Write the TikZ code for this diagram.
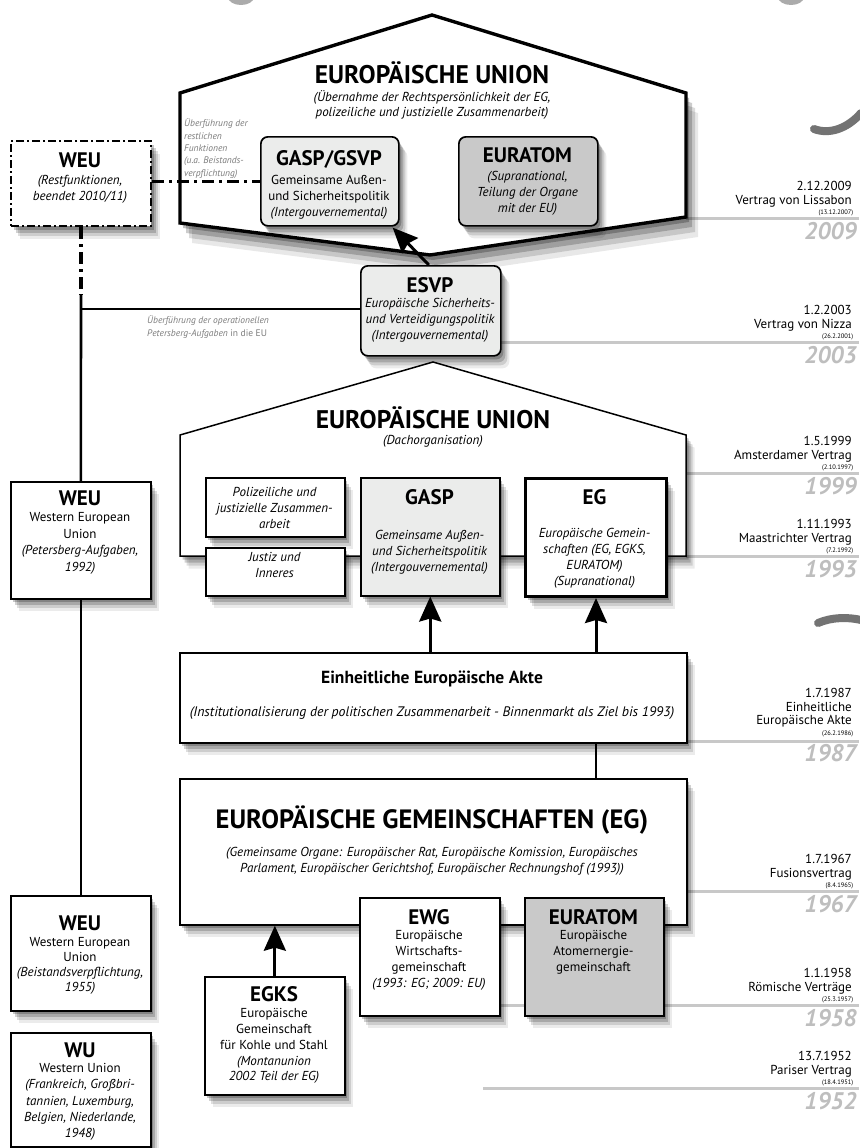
\documentclass[tikz,border=0pt]{standalone}
\usepackage{fontspec}
\setmainfont{PT Sans}
\usetikzlibrary{arrows.meta,shadows}
\definecolor{lgrey}{HTML}{EBECEB}
\definecolor{mgrey}{HTML}{C9C9C9}
\definecolor{tlgrey}{HTML}{C8C8C8}
\definecolor{yrgrey}{HTML}{BEBEBE}
\definecolor{notegrey}{HTML}{7C7C7C}
\definecolor{decogrey}{HTML}{737373}
\newcommand\fbody{\fontsize{13}{15.8}\selectfont}
\newcommand\stt{\rule{0pt}{10.4pt}}
\newcommand\tlentry[6]{%
  \draw[tlline] (#2,#1) -- (859,#1);
  \node[tldate] (d#6) at (852,#1-27.3) {#3};
  \node[tldate] (n#6) at (852,#1-13.1) {#4};
  \node[tlsmall] (s#6) at (853.5,#1-3.8) {#5};
  \node[tlyear] (y#6) at (857,#1+21.3) {#6};
}
\begin{document}
\begin{tikzpicture}[x=1pt,y=-1pt,
  sh/.style={drop shadow={shadow xshift=2.5pt,shadow yshift=-3.5pt,opacity=.22,fill=black},
             drop shadow={shadow xshift=4.5pt,shadow yshift=-6.5pt,opacity=.18,fill=black},
             drop shadow={shadow xshift=6.5pt,shadow yshift=-9.5pt,opacity=.13,fill=black},
             drop shadow={shadow xshift=8.5pt,shadow yshift=-12.5pt,opacity=.08,fill=black}},
  shbig/.style={drop shadow={shadow xshift=3pt,shadow yshift=-5pt,opacity=.25,fill=black},
             drop shadow={shadow xshift=6pt,shadow yshift=-10pt,opacity=.2,fill=black},
             drop shadow={shadow xshift=9pt,shadow yshift=-15pt,opacity=.14,fill=black},
             drop shadow={shadow xshift=12pt,shadow yshift=-20pt,opacity=.09,fill=black}},
  box/.style={draw, line width=1.7pt, fill=white, inner sep=0pt, anchor=north west, sh},
  rbox/.style={box, rounded corners=7pt},
  ttl/.style={inner sep=0pt, anchor=base, font=\fontsize{21}{23}\selectfont\bfseries},
  bd/.style={inner sep=0pt, anchor=north, align=center, font=\fbody},
  bdi/.style={bd, font=\fbody\itshape},
  note/.style={inner sep=0pt, anchor=north west, align=left, text=notegrey, font=\fontsize{9.5}{12.4}\selectfont},
  conn/.style={line width=2.6pt},
  ddash/.style={line width=3.2pt, dash pattern=on 12pt off 5pt on 3pt off 5pt},
  arr/.style={line width=3pt, -{Stealth[length=25pt,width=22pt,inset=3pt]}},
  tlline/.style={line width=3pt, tlgrey},
  tldate/.style={inner sep=0pt, anchor=base east, font=\fontsize{13}{15}\selectfont},
  tlsmall/.style={inner sep=0pt, anchor=base east, font=\fontsize{6.5}{7}\selectfont},
  tlyear/.style={inner sep=0pt, anchor=base east, text=yrgrey, font=\fontsize{24}{26}\selectfont\bfseries\itshape},
  deco/.style={line width=8pt, decogrey, line cap=round}]
\useasboundingbox (0,0) rectangle (859,1148);

% timeline
\tlentry{218}{686}{2.12.2009}{Vertrag von Lissabon}{(13.12.2007)}{2009}
\tlentry{342}{500}{1.2.2003}{Vertrag von Nizza}{(26.2.2001)}{2003}
\tlentry{473}{686}{1.5.1999}{Amsterdamer Vertrag}{(2.10.1997)}{1999}
\tlentry{556}{686}{1.11.1993}{Maastrichter Vertrag}{(7.2.1992)}{1993}
\draw[tlline] (686,741) -- (859,741);
\node[tldate] (d1987) at (852,697.7) {1.7.1987};
\node[tldate] (n1987a) at (852,711.7) {Einheitliche};
\node[tldate] (n1987b) at (852,724.7) {Europäische Akte};
\node[tlsmall] (s1987) at (853.5,735.2) {(26.2.1986)};
\node[tlyear] (y1987) at (857,761.8) {1987};
\tlentry{891}{686}{1.7.1967}{Fusionsvertrag}{(8.4.1965)}{1967}
\tlentry{1005}{499}{1.1.1958}{Römische Verträge}{(25.3.1957)}{1958}
\tlentry{1088}{483}{13.7.1952}{Pariser Vertrag}{(18.4.1951)}{1952}

% decorative grey marks
\draw[deco] (814,129) .. controls (830,135) and (848,128) .. (861,113);
\draw[deco] (818,623) .. controls (832,617) and (848,617) .. (861,620);
\fill[decogrey, opacity=.6] (241,-3) ellipse (13 and 8);
\fill[decogrey, opacity=.6] (791,-3) ellipse (13 and 8);

% top EU
\draw[line width=3.4pt, line join=miter, fill=white, shbig] (180,93) -- (432,15) -- (686,93) -- (686,217) -- (430,255) -- (180,223) -- cycle;
\node[inner sep=0pt, anchor=base, font=\fontsize{25.5}{27}\selectfont\bfseries] (eu1T) at (432,84) {EUROPÄISCHE UNION};
\node[bdi] (eu1B) at (432,90) {\stt(Übernahme der Rechtspersönlichkeit der EG,\\polizeiliche und justizielle Zusammenarbeit)};
\node[note, font=\fontsize{9.5}{12.4}\selectfont\itshape] (noteTop) at (184,118.6) {\rule{0pt}{7.7pt}Überführung der\\restlichen\\Funktionen\\(u.a. Beistands-\\verpflichtung)};

\node[rbox, fill=lgrey, minimum width=138pt, minimum height=89pt] (gsvp) at (260,136) {};
\node[ttl] (gsvpT) at (329,165.3) {GASP/GSVP};
\node[bd] (gsvpB) at (329,174) {\stt Gemeinsame Außen-\\und Sicherheitspolitik\\\textit{(Intergouvernemental)}};

\node[rbox, fill=mgrey, minimum width=139pt, minimum height=89pt] (eur1) at (458,136) {};
\node[ttl] (eur1T) at (527.5,162.3) {EURATOM};
\node[bdi] (eur1B) at (527.5,170) {\stt(Supranational,\\Teilung der Organe\\mit der EU)};

\node[box, dash pattern=on 8pt off 3pt on 2pt off 3pt, line width=2pt, minimum width=140pt, minimum height=85pt] (weutop) at (10,140) {};
\node[ttl] (weutopT) at (80,167.3) {WEU};
\node[bdi] (weutopB) at (80,174) {\stt(Restfunktionen,\\beendet 2010/11)};

% ESVP
\node[rbox, fill=lgrey, minimum width=140pt, minimum height=90pt] (esvp) at (360,265) {};
\node[ttl] (esvpT) at (430,292.3) {ESVP};
\node[bdi] (esvpB) at (430,297) {\stt Europäische Sicherheits-\\und Verteidigungspolitik\\(Intergouvernemental)};
\node[note] (noteMid) at (147,315.6) {\rule{0pt}{7.7pt}\textit{Überführung der operationellen}\\\textit{Petersberg-Aufgaben} in die EU};

% middle EU
\draw[line width=1.5pt, fill=white, sh] (180,435) -- (433,362) -- (686,435) -- (686,556) -- (180,556) -- cycle;
\node[inner sep=0pt, anchor=base, font=\fontsize{25.5}{27}\selectfont\bfseries] (eu2T) at (433,428) {EUROPÄISCHE UNION};
\node[inner sep=0pt, anchor=base, font=\fbody\itshape] (eu2B) at (433,444.5) {(Dachorganisation)};

\node[box, line width=1.5pt, minimum width=139pt, minimum height=59pt] (poliz) at (205,477) {};
\node[bdi] (polizB) at (274.5,486) {\stt Polizeiliche und\\justizielle Zusammen-\\arbeit};
\node[box, line width=1.5pt, minimum width=139pt, minimum height=48pt] (justiz) at (205,547) {};
\node[bdi] (justizB) at (274.5,551) {\stt Justiz und\\Inneres};
\node[box, line width=1.5pt, fill=lgrey, minimum width=139pt, minimum height=118pt] (gasp) at (360,477) {};
\node[ttl] (gaspT) at (429.5,504.3) {GASP};
\node[bdi] (gaspB) at (429.5,529) {\stt Gemeinsame Außen-\\und Sicherheitspolitik\\(Intergouvernemental)};
\node[box, line width=3pt, minimum width=141pt, minimum height=118pt] (eg) at (524,477) {};
\node[ttl] (egT) at (594.5,504.3) {EG};
\node[bdi] (egB) at (594.5,527) {\stt Europäische Gemein-\\schaften (EG, EGKS,\\EURATOM)\\(Supranational)};

% EEA
\node[box, minimum width=507pt, minimum height=90pt] (eea) at (179,652) {};
\node[inner sep=0pt, anchor=base, font=\fontsize{17.5}{19}\selectfont\bfseries] (eeaT) at (432,683) {Einheitliche Europäische Akte};
\node[inner sep=0pt, anchor=base, font=\fontsize{13.8}{16}\selectfont\itshape] (eeaB) at (432,716.8) {(Institutionalisierung der politischen Zusammenarbeit - Binnenmarkt als Ziel bis 1993)};

% EG big
\node[box, minimum width=507pt, minimum height=146pt] (egbig) at (179,778) {};
\node[inner sep=0pt, anchor=base, font=\fontsize{26.5}{28}\selectfont\bfseries] (egbigT) at (432,828.5) {EUROPÄISCHE GEMEINSCHAFTEN (EG)};
\node[bdi] (egbigB) at (432,846) {\stt(Gemeinsame Organe: Europäischer Rat, Europäische Komission, Europäisches\\Parlament, Europäischer Gerichtshof, Europäischer Rechnungshof (1993))};

\node[box, minimum width=140pt, minimum height=118pt] (ewg) at (359,897) {};
\node[ttl] (ewgT) at (429,924.3) {EWG};
\node[bd] (ewgB) at (429,929) {\stt Europäische\\Wirtschafts-\\gemeinschaft\\\textit{(1993: EG; 2009: EU)}};
\node[box, fill=mgrey, minimum width=139pt, minimum height=118pt] (eur2) at (524,897) {};
\node[ttl] (eur2T) at (593.5,924.3) {EURATOM};
\node[bd] (eur2B) at (593.5,929) {\stt Europäische\\Atomernergie-\\gemeinschaft};
\node[box, minimum width=140pt, minimum height=118pt] (egks) at (204,976) {};
\node[ttl] (egksT) at (274,1001.3) {EGKS};
\node[bd] (egksB) at (274,1007) {\stt Europäische\\Gemeinschaft\\für Kohle und Stahl\\\textit{(Montanunion}\\\textit{2002 Teil der EG)}};

% left column
\node[box, minimum width=140pt, minimum height=117pt] (weu92) at (10,481) {};
\node[ttl] (weu92T) at (80,505.3) {WEU};
\node[bd, font=\fontsize{13}{16.5}\selectfont] (weu92B) at (80,511) {\stt Western European\\Union\\\textit{(Petersberg-Aufgaben,}\\\textit{1992)}};
\node[box, minimum width=140pt, minimum height=115pt] (weu55) at (10,895) {};
\node[ttl] (weu55T) at (80,930.3) {WEU};
\node[bd, font=\fontsize{13}{14.8}\selectfont] (weu55B) at (80,936) {\stt Western European\\Union\\\textit{(Beistandsverpflichtung,}\\\textit{1955)}};
\node[box, minimum width=140pt, minimum height=114pt] (wu) at (10,1032) {};
\node[ttl] (wuT) at (80,1057.3) {WU};
\node[bd, font=\fontsize{13}{16.2}\selectfont] (wuB) at (80,1062) {\stt Western Union\\\textit{(Frankreich, Großbri-}\\\textit{tannien, Luxemburg,}\\\textit{Belgien, Niederlande,}\\\textit{1948)}};

% connectors
\draw[ddash] (gsvp.west -| weutop.east) -- (gsvp.west);
\draw[ddash] (weutop.south) -- ++(0,68) coordinate (jdd);
\draw[conn] (jdd) -- (weu92.north);
\coordinate (jh) at (80,309);
\draw[conn] (jh) -- (jh -| esvp.west);
\draw[conn] (weu92.south) -- (weu55.north);
\draw[arr] ([xshift=-2pt]esvp.north) -- ([xshift=-7pt,yshift=-1pt]gsvp.south east);
\draw[arr] (gasp.south |- eea.north) -- (gasp.south);
\draw[arr] (eg.south |- eea.north) -- (eg.south);
\draw[conn] (eea.south -| eg.south) -- (egbig.north -| eg.south);
\draw[arr] (egks.north) -- (egks.north |- egbig.south);
\end{tikzpicture}
\end{document}
